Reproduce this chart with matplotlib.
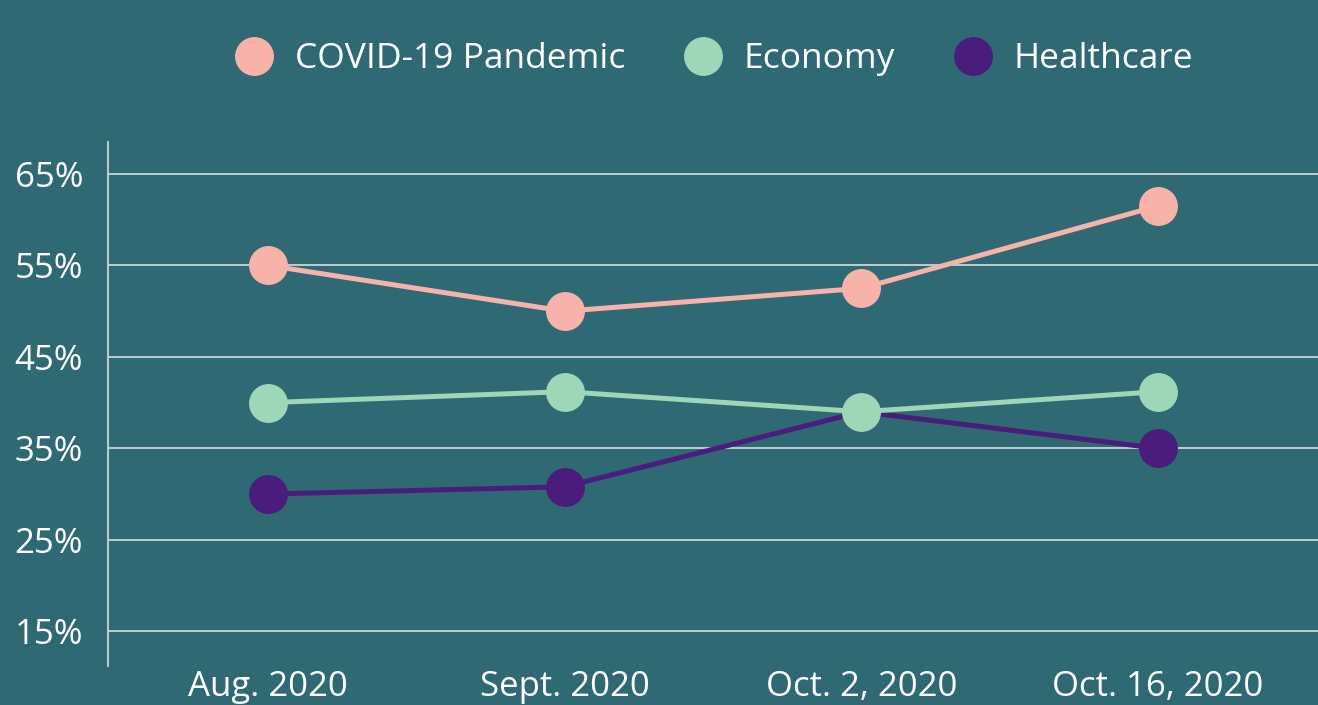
import matplotlib.pyplot as plt

# data
dates = ['Aug. 2020', 'Sept. 2020', 'Oct. 2, 2020', 'Oct. 16, 2020']
covid = [55, 50, 52.5, 61.5]
economy = [40, 41.2, 39, 41.2]
healthcare = [30, 30.8, 39, 35]
yticks = [15, 25, 35, 45, 55, 65]

bg = '#2e6974'
plt.rcParams['font.family'] = ['Open Sans', 'DejaVu Sans']

fig = plt.figure(figsize=(13.18, 7.05), dpi=100, facecolor=bg)
ax = fig.add_axes([108 / 1318, 1 - 666 / 705, 1 - 108 / 1318, (666 - 142) / 705])
ax.set_facecolor(bg)

x = range(len(dates))
l1, = ax.plot(x, covid, color='#f7b3a9', lw=3.6, marker='o', ms=27, zorder=3, label='COVID-19 Pandemic')
l3, = ax.plot(x, healthcare, color='#4a1d7c', lw=3.6, marker='o', ms=27, zorder=3, label='Healthcare')
l2, = ax.plot(x, economy, color='#9ed6b8', lw=3.6, marker='o', ms=27, zorder=4, label='Economy')

ax.set_xlim(-0.54, 3.54)
ax.set_ylim(11.2, 68.5)
ax.set_yticks(yticks)
ax.set_yticklabels([f'{v}%' for v in yticks])
ax.set_xticks(list(x))
ax.set_xticklabels(dates)
ax.grid(axis='y', color='#c9d6d8', lw=1.3, zorder=1)
ax.tick_params(axis='both', length=0, colors='white', labelsize=25)
ax.tick_params(axis='y', pad=18)
ax.tick_params(axis='x', pad=3)
for s in ['top', 'right', 'bottom']:
    ax.spines[s].set_visible(False)
ax.spines['left'].set_color('#c9d6d8')
ax.spines['left'].set_linewidth(1.3)

leg = fig.legend(handles=[l1, l2, l3], loc='center', bbox_to_anchor=(0.543, 1 - 59 / 705),
                 ncol=3, frameon=False, fontsize=25.5, labelcolor='white',
                 handlelength=0.9, handletextpad=0.7, columnspacing=1.75)
for h in leg.legend_handles:
    h.set_linestyle('none')

fig.savefig('out.png', dpi=100, facecolor=bg)
